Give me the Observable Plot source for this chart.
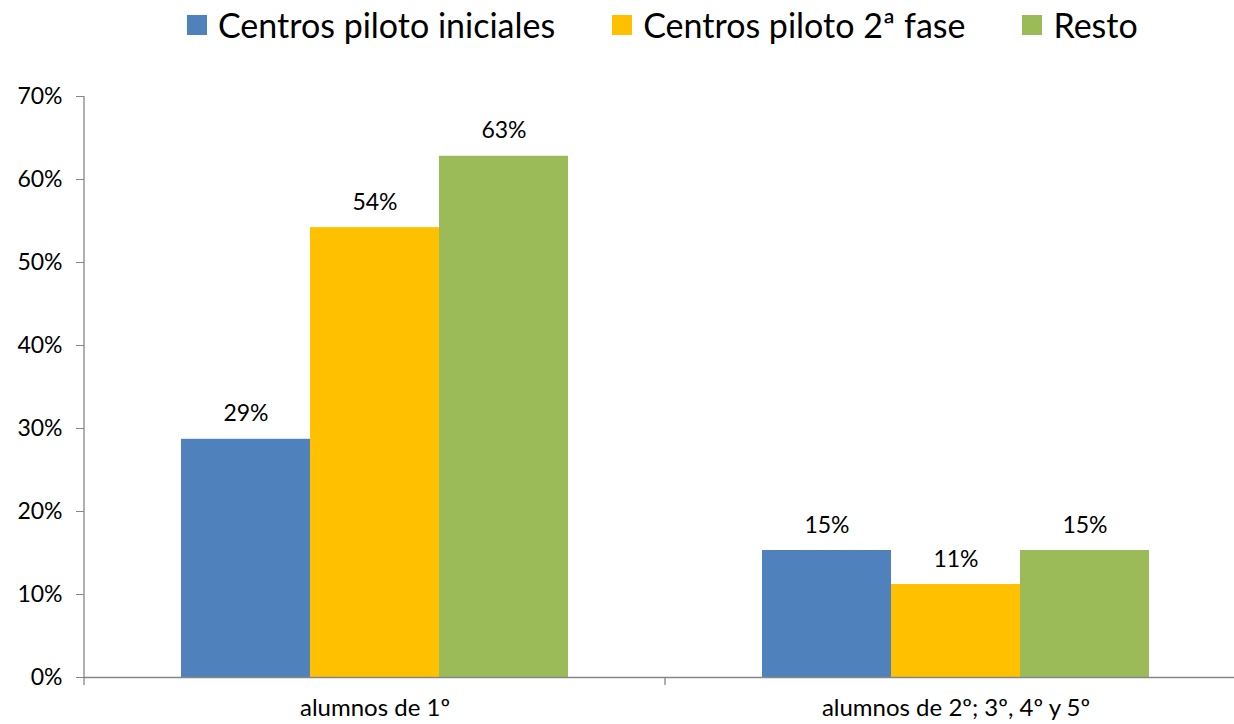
<!DOCTYPE html>
<html><head><meta charset="utf-8">
<script src="https://cdn.jsdelivr.net/npm/d3@7"></script>
<script src="https://cdn.jsdelivr.net/npm/@observablehq/plot@0.6"></script>
<style>
body{margin:0;background:#fff;overflow:hidden;font-family:Lato,"Open Sans",sans-serif;}
#legend{height:50px;margin-bottom:5px;display:flex;justify-content:flex-start;align-items:center;gap:57px;font-size:34px;color:#000;padding-left:187px;box-sizing:border-box;}
#legend .item{display:flex;align-items:center;gap:11px;white-space:nowrap;line-height:1;}
#legend .sw{width:20px;height:20px;display:inline-block;}
#chart svg{display:block;overflow:visible;max-width:none !important;}
</style></head><body>
<div id="legend"></div><div id="chart"></div>
<script>
const categories = ["alumnos de 1º", "alumnos de 2º; 3º, 4º y 5º"];
const series = ["Centros piloto iniciales", "Centros piloto 2ª fase", "Resto"];
const colors = ["#4F81BD", "#FFC000", "#9BBB59"];
const valuesIniciales = [28.7, 15.3];
const values2Fase = [54.2, 11.2];
const valuesResto = [62.8, 15.3];
const yTicks = [0, 10, 20, 30, 40, 50, 60, 70];

const seriesValues = [valuesIniciales, values2Fase, valuesResto];
const data = [];
categories.forEach((c, i) => series.forEach((s, j) => data.push({cat: c, series: s, value: seriesValues[j][i]})));

const legend = document.getElementById("legend");
series.forEach((s, j) => {
  const it = document.createElement("span"); it.className = "item";
  const sw = document.createElement("span"); sw.className = "sw"; sw.style.background = colors[j];
  const t = document.createElement("span"); t.textContent = s;
  it.appendChild(sw); it.appendChild(t); legend.appendChild(it);
});

const axisColor = "#868686";
const chart = Plot.plot({
  width: 1246, height: 669,
  marginLeft: 84, marginRight: 0, marginTop: 41, marginBottom: 47,
  style: {fontFamily: "Lato, 'Open Sans', sans-serif", fontSize: "23px", color: "#000", background: "transparent", maxWidth: "none"},
  fx: {domain: categories, padding: 0, label: null},
  x: {domain: series, paddingInner: 0, paddingOuter: 0.75, axis: null},
  y: {domain: [0, 70], label: null},
  color: {domain: series, range: colors},
  marks: [
    Plot.barY(data, {fx: "cat", x: "series", y: "value", fill: "series"}),
    Plot.ruleY([0], {stroke: axisColor, strokeWidth: 1.3}),
    Plot.text(data, {fx: "cat", x: "series", y: "value", text: d => Math.round(d.value) + "%", dy: -18, lineAnchor: "bottom", fontSize: 23, fill: "#000"}),
    Plot.axisY({ticks: yTicks, tickFormat: d => d + "%", tickSize: 8, tickPadding: 14, stroke: axisColor, fill: "#000", fontSize: 23, label: null}),
    Plot.axisFx({anchor: "bottom", tickSize: 0, tickPadding: 21, label: null, fontSize: 24, fill: "#000"})
  ]
});
document.getElementById("chart").appendChild(chart);

// axis line and category boundary ticks from the library scales
const fx = chart.scale("fx"), y = chart.scale("y");
const svg = d3.select(chart);
const x0 = fx.apply(categories[0]);
const y0 = y.apply(0), yTop = y.apply(yTicks[yTicks.length - 1]);
svg.append("line").attr("x1", x0).attr("x2", x0).attr("y1", y0 + 8).attr("y2", yTop).attr("stroke", axisColor).attr("stroke-width", 1.3);
categories.forEach(c => {
  const xe = fx.apply(c) + fx.bandwidth;
  svg.append("line").attr("x1", xe).attr("x2", xe).attr("y1", y0).attr("y2", y0 + 8).attr("stroke", axisColor).attr("stroke-width", 1.3);
});
</script>
</body></html>
